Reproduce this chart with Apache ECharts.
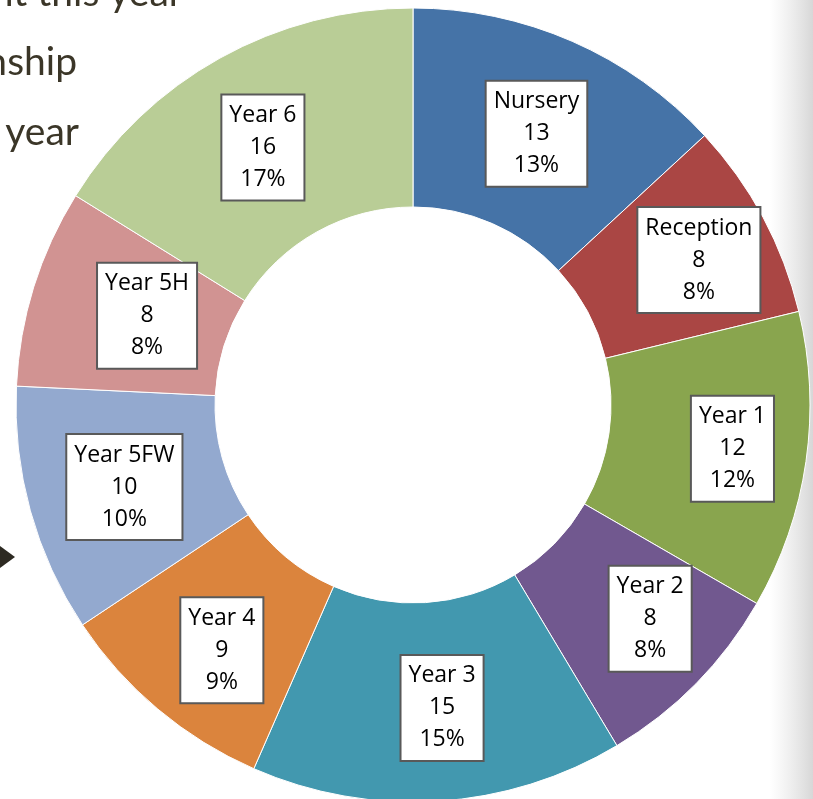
<!DOCTYPE html>
<html><head><meta charset="utf-8">
<script src="https://cdn.jsdelivr.net/npm/echarts@6/dist/echarts.min.js"></script>
<style>html,body{margin:0;padding:0;background:#fff}#c{width:813px;height:799px}</style>
</head><body><div id="c"></div>
<script>
const categories = ['Nursery','Reception','Year 1','Year 2','Year 3','Year 4','Year 5FW','Year 5H','Year 6'];
const values = [13, 8, 12, 8, 15, 9, 10, 8, 16];
const percentLabels = ['13%','8%','12%','8%','15%','9%','10%','8%','17%'];
const colors = ['#4573A7','#AA4644','#89A54E','#71588F','#4298AF','#DB843D','#93A9CF','#D19392','#B9CD96'];
const bgLines = ['ent this year','nship','s year'];
// label box nudges (style only)
const labelNudges = [[3,4],[21,-3],[22,1],[23,3],[10,3],[2,15],[1,2],[21,0],[-4,5]];

const chart = echarts.init(document.getElementById('c'));
chart.setOption({
  backgroundColor: '#ffffff',
  animation: false,
  graphic: [
    {type:'rect', z:-10, shape:{x:770,y:0,width:43,height:799},
     style:{fill:new echarts.graphic.LinearGradient(0,0,1,0,[{offset:0,color:'rgba(225,225,225,0)'},{offset:1,color:'rgba(215,215,215,1)'}])}},
    {type:'text', z:-5, x:183, y:-26, style:{text:bgLines[0], font:'39px Lato', fill:'#3b3628', textAlign:'right'}},
    {type:'text', z:-5, x:77, y:82, style:{text:bgLines[1], font:'39px Lato', fill:'#3b3628', textAlign:'right', textVerticalAlign:'bottom'}},
    {type:'text', z:-5, x:79, y:152, style:{text:bgLines[2], font:'39px Lato', fill:'#3b3628', textAlign:'right', textVerticalAlign:'bottom'}},
    {type:'polygon', z:-5, shape:{points:[[0,546],[15,557],[0,568]]}, style:{fill:'#2d2a22'}}
  ],
  series: [{
    type: 'pie',
    center: [413, 405],
    radius: [198, 397],
    startAngle: 90,
    clockwise: true,
    avoidLabelOverlap: false,
    color: colors,
    itemStyle: {borderColor:'#ffffff', borderWidth:1},
    label: {
      show: true,
      position: 'inside',
      formatter: p => p.name + '\n' + p.value + '\n' + percentLabels[p.dataIndex],
      color: '#000',
      fontFamily: 'Open Sans',
      fontSize: 23,
      lineHeight: 32,
      backgroundColor: '#ffffff',
      borderColor: '#595959',
      borderWidth: 2,
      padding: [4, 7, 4, 7],
      align: 'center'
    },
    labelLine: {show:false},
    data: categories.map((n,i)=>({name:n, value:values[i], label:{offset:labelNudges[i]}}))
  }]
});
</script></body></html>
